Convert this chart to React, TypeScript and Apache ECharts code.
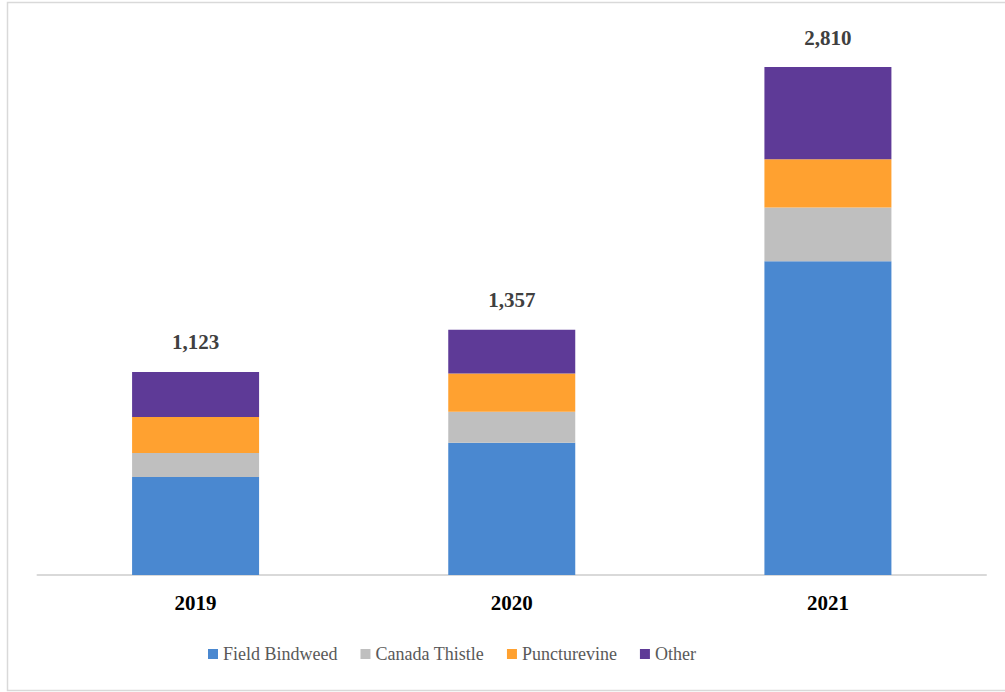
import React, { useEffect, useRef } from "react";
import * as echarts from "echarts";

const years = ["2019", "2020", "2021"];
const fieldBindweed = [542, 732, 1736];
const canadaThistle = [133, 171, 297];
const puncturevine = [199, 212, 267];
const other = [249, 242, 510];
const totals = [1123, 1357, 2810];

const seriesNames = ["Field Bindweed", "Canada Thistle", "Puncturevine", "Other"];
const seriesColors = ["#4A88D0", "#BFBFBF", "#FFA130", "#5E3A97"];

const FONT = "Liberation Serif";

export default function App() {
  const ref = useRef<HTMLDivElement>(null);
  useEffect(() => {
    if (!ref.current) return;
    const chart = echarts.init(ref.current, null, { renderer: "svg" });
    const values = [fieldBindweed, canadaThistle, puncturevine, other];
    const legendText = { fontFamily: FONT, fontSize: 18, color: "#595959" };
    const series: any[] = values.map((vals, i) => ({
      name: seriesNames[i],
      type: "bar",
      stack: "total",
      barWidth: 127,
      data: vals,
      itemStyle: { color: seriesColors[i] },
      label:
        i === values.length - 1
          ? {
              show: true,
              position: "top",
              distance: 19,
              formatter: (p: any) => totals[p.dataIndex].toLocaleString("en-US"),
              fontFamily: FONT,
              fontWeight: "bold",
              fontSize: 21,
              color: "#404040",
            }
          : { show: false },
    }));
    chart.setOption({
      animation: false,
      backgroundColor: "#ffffff",
      textStyle: { fontFamily: FONT },
      grid: { left: 37.5, right: 19, top: 32.7, bottom: 117, containLabel: false },
      xAxis: {
        type: "category",
        data: years,
        axisLine: { show: true, lineStyle: { color: "#D9D9D9", width: 2 } },
        axisTick: { show: false },
        axisLabel: {
          fontFamily: FONT,
          fontWeight: "bold",
          fontSize: 21,
          color: "#000000",
          margin: 17,
        },
      },
      yAxis: {
        type: "value",
        min: 0,
        max: 3000,
        show: false,
        splitLine: { show: false },
      },
      legend: {
        data: seriesNames,
        left: 203,
        top: 640,
        itemWidth: 10,
        itemHeight: 10,
        itemGap: 23,
        icon: "rect",
        textStyle: legendText,
      },
      graphic: [
        {
          type: "rect",
          shape: { x: 7.5, y: 2.5, width: 1010, height: 688 },
          style: { fill: "none", stroke: "#D9D9D9", lineWidth: 1.5 },
          silent: true,
        },
      ],
      series,
    });
    return () => chart.dispose();
  }, []);
  return (
    <div
      ref={ref}
      style={{ position: "fixed", left: 0, top: 0, width: 1005, height: 692 }}
    />
  );
}
